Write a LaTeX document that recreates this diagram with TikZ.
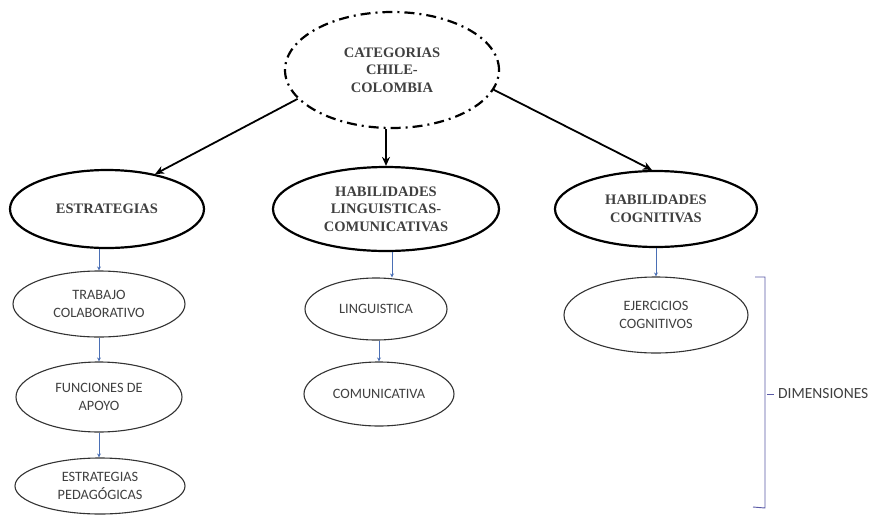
\documentclass[tikz,border=0pt]{standalone}
\usepackage{fontspec}
\setmainfont{Liberation Serif}
\newfontfamily\calib{Carlito}
\usetikzlibrary{shapes.geometric,arrows.meta}
\definecolor{txtgray}{HTML}{404040}
\definecolor{linkblue}{HTML}{4A6FB5}
\begin{document}
\begin{tikzpicture}[x=1pt,y=-1pt,
  bigell/.style={ellipse,draw=black,line width=2.2pt,inner sep=0pt,align=center,
    font=\fontsize{14.5}{17.5}\selectfont\bfseries,text=txtgray},
  smallell/.style={ellipse,draw=black!80,line width=1.1pt,inner sep=0pt,align=center,
    font=\calib\fontsize{14.3}{18}\selectfont,text=txtgray},
  mainarrow/.style={line width=1.8pt,-{Stealth[length=9pt,width=8pt]}},
  bluearrow/.style={draw=linkblue,line width=0.9pt,-{Stealth[length=4pt,width=4pt]}},
  bracketline/.style={draw=gray!70!blue,line width=0.9pt}]
\useasboundingbox (0,0) rectangle (871,515);
\fill[white] (0,0) rectangle (871,515);

\node[bigell,dash pattern=on 10pt off 5pt on 2pt off 5pt,minimum width=214pt,minimum height=116pt] (top) at (392,70) {CATEGORIAS\\CHILE-\\COLOMBIA};
\node[bigell,minimum width=194pt,minimum height=78pt] (estr) at (107,209) {ESTRATEGIAS};
\node[bigell,minimum width=226pt,minimum height=84pt] (hl) at (386,209) {HABILIDADES\\LINGUISTICAS-\\COMUNICATIVAS};
\node[bigell,minimum width=202pt,minimum height=76pt] (hc) at (656,209) {HABILIDADES\\COGNITIVAS};

\node[smallell,minimum width=172pt,minimum height=66pt] (trab) at (99,304) {TRABAJO\\COLABORATIVO};
\node[smallell,minimum width=166pt,minimum height=70pt] (func) at (99,397) {FUNCIONES DE\\APOYO};
\node[smallell,minimum width=170pt,minimum height=56pt] (ped) at (100,486) {ESTRATEGIAS\\PEDAGÓGICAS};
\node[smallell,minimum width=142pt,minimum height=62pt] (ling) at (376,309) {LINGUISTICA};
\node[smallell,minimum width=150pt,minimum height=64pt] (comun) at (379,394) {COMUNICATIVA};
\node[smallell,minimum width=184pt,minimum height=76pt] (ejer) at (656,315) {EJERCICIOS\\COGNITIVOS};

\draw[mainarrow] (top.197) -- (estr.36);
\draw[mainarrow] (hl.north |- top.south) -- (hl.north);
\draw[mainarrow] (top.-11) -- (hc.96);

\draw[bluearrow] (trab.north |- estr.south) -- (trab.north);
\draw[bluearrow] (func.north |- trab.south) -- (func.north);
\draw[bluearrow] (func.south) -- (func.south |- ped.north);
\draw[bluearrow] ([xshift=6pt]hl.south) -- ([xshift=6pt]hl.south |- ling.north);
\draw[bluearrow] (comun.north |- ling.south) -- (comun.north);
\draw[bluearrow] (hc.south) -- (hc.south |- ejer.north);

\coordinate (bt) at (765,277);
\coordinate (bb) at (765,508);
\coordinate (bm) at (765,394);
\draw[bracketline] ([xshift=-10pt]bt) -- (bt) -- (bb) -- ([xshift=-12pt,yshift=1pt]bb);
\node[anchor=west,font=\calib\fontsize{15.5}{18}\selectfont,text=txtgray,inner sep=0pt] (dim) at (778,394) {DIMENSIONES};
\draw[bracketline] ([xshift=2pt]bm) -- (dim.west -| 774,0);
\end{tikzpicture}
\end{document}
